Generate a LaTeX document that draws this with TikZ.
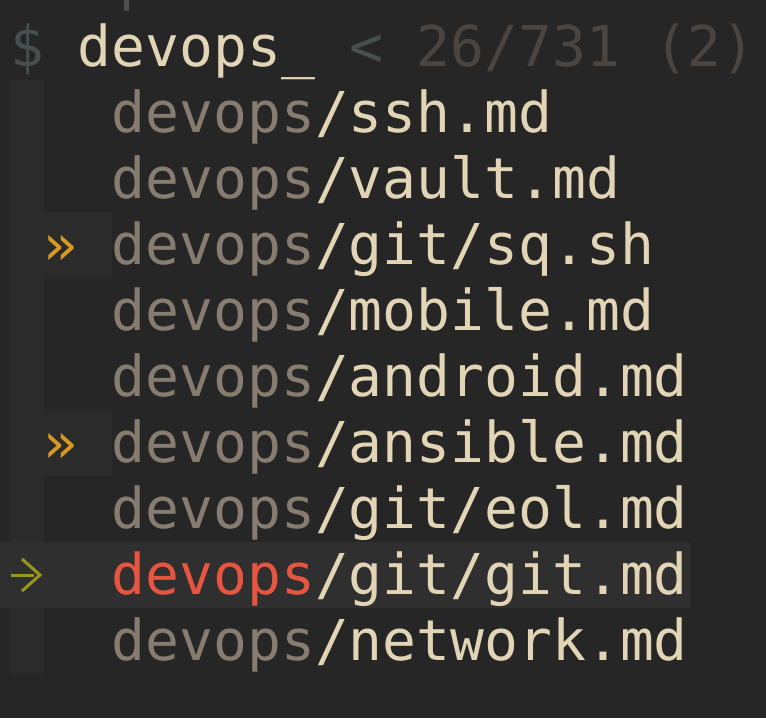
\documentclass[tikz,border=0pt]{standalone}
\usepackage{fontspec}
\newfontfamily\mono{DejaVu Sans Mono}
\definecolor{bgc}{HTML}{262626}
\definecolor{gutc}{HTML}{2B2B2B}
\definecolor{hlc}{HTML}{2F2F2F}
\definecolor{dimc}{HTML}{877C70}
\definecolor{fgc}{HTML}{E2D5B6}
\definecolor{redc}{HTML}{E6553F}
\definecolor{markc}{HTML}{D79921}
\definecolor{ptrc}{HTML}{98971A}
\definecolor{promptc}{HTML}{47504E}
\definecolor{infoc}{HTML}{4A4541}
\begin{document}
\begin{tikzpicture}[x=1pt,y=-1pt,
  txt/.style={anchor=base west,inner sep=0pt,outer sep=0pt,font=\mono\fontsize{56.3}{66}\selectfont},
  entry/.style={txt,text=fgc}]
\useasboundingbox (0,0) rectangle (766,718);
\fill[bgc] (0,0) rectangle (766,718);
% fragment of previous line
\fill[gray!45!bgc] (124,0) rectangle (129,11);
% gutter
\fill[gutc] (10,80) rectangle (44,674);
% marked rows
\fill[gutc] (44,212) rectangle (112,278);
\fill[gutc] (44,410) rectangle (112,476);
% current row
\fill[hlc] (0,542) rectangle (690,608);
% prompt line
\def\cw{33.9}
\node[txt,text=promptc] (dollar) at (10,66) {\$};
\node[txt,text=fgc] (query) at ({10+2*\cw},66) {devops\_};
\node[txt,text=promptc] (lt) at ({10+10*\cw},66) {<};
\node[txt,text=infoc] (count) at ({10+12*\cw},66) {26/731};
\node[txt,text=infoc] (sel) at ({10+19*\cw},66) {(2)};
% entries
\node[entry] (e1) at ({10+3*\cw},132) {\textcolor{dimc}{devops}/ssh.md};
\node[entry] (e2) at ({10+3*\cw},198) {\textcolor{dimc}{devops}/vault.md};
\node[entry] (e3) at ({10+3*\cw},264) {\textcolor{dimc}{devops}/git/sq.sh};
\node[entry] (e4) at ({10+3*\cw},330) {\textcolor{dimc}{devops}/mobile.md};
\node[entry] (e5) at ({10+3*\cw},396) {\textcolor{dimc}{devops}/android.md};
\node[entry] (e6) at ({10+3*\cw},462) {\textcolor{dimc}{devops}/ansible.md};
\node[entry] (e7) at ({10+3*\cw},528) {\textcolor{dimc}{devops}/git/eol.md};
\node[entry] (e8) at ({10+3*\cw},594) {\textcolor{redc}{devops}/git/git.md};
\node[entry] (e9) at ({10+3*\cw},660) {\textcolor{dimc}{devops}/network.md};
% markers
\node[txt,text=markc] (m3) at ({10+1*\cw},264) {»};
\node[txt,text=markc] (m6) at ({10+1*\cw},462) {»};
% pointer
\draw[ptrc,line width=3pt] (11,575) -- (34,575);
\draw[ptrc,line width=3pt] (22,559) -- (40,575) -- (22,591);
\end{tikzpicture}
\end{document}
